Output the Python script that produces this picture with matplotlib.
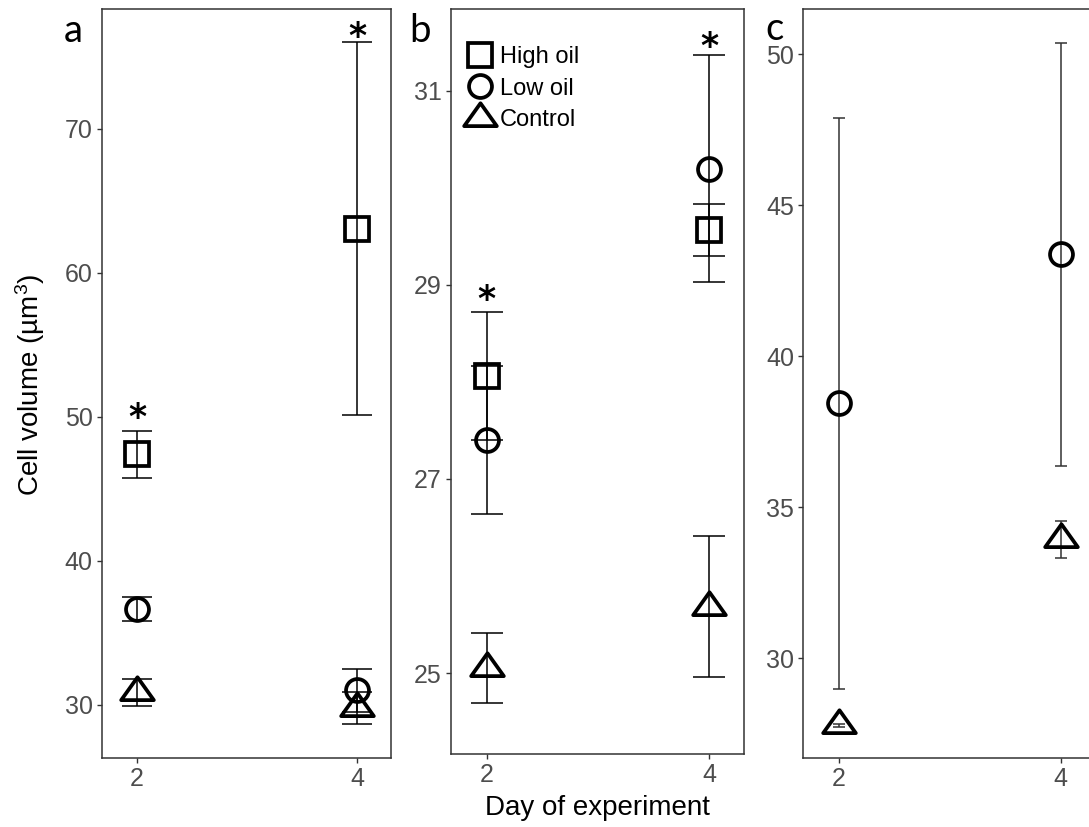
import matplotlib
matplotlib.use("Agg")
import matplotlib.pyplot as plt
from matplotlib.path import Path
from matplotlib.lines import Line2D
from matplotlib.textpath import TextPath
from matplotlib.font_manager import FontProperties

plt.rcParams["font.family"] = ["Liberation Sans", "DejaVu Sans"]
plt.rcParams["mathtext.default"] = "regular"

days = [2, 4]
treatments = ["High oil", "Low oil", "Control"]

# Panel a: means and standard errors
a_high_mean = [47.39, 63.05]
a_high_err = [1.65, 12.95]
a_low_mean = [36.65, 31.0]
a_low_err = [0.82, 1.5]
a_ctrl_mean = [30.87, 29.75]
a_ctrl_err = [0.94, 1.1]
a_star_day = [2, 4]
a_star_y = [50.45, 76.9]

# Panel b
b_high_mean = [28.065, 29.567]
b_high_err = [0.66, 0.27]
b_low_mean = [27.40, 30.20]
b_low_err = [0.76, 1.17]
b_ctrl_mean = [25.05, 25.685]
b_ctrl_err = [0.36, 0.725]
b_star_day = [2, 4]
b_star_y = [28.92, 31.53]

# Panel c
c_low_mean = [38.43, 43.37]
c_low_err = [9.44, 7.0]
c_ctrl_mean = [27.78, 33.925]
c_ctrl_err = [0.05, 0.625]

a_yticks = [30, 40, 50, 60, 70]
b_yticks = [25, 27, 29, 31]
c_yticks = [30, 35, 40, 45, 50]

# Flattened triangle with its centroid at the origin
tri_h = 0.7
triangle = Path([(0, tri_h * 2 / 3), (-0.5, -tri_h / 3), (0.5, -tri_h / 3), (0, tri_h * 2 / 3)],
                [Path.MOVETO, Path.LINETO, Path.LINETO, Path.CLOSEPOLY])

marker_style = {
    "High oil": dict(marker="s", ms=17.5),
    "Low oil": dict(marker="o", ms=16.5),
    "Control": dict(marker=triangle, ms=23.5),
}
MEW = 2.7
FRAME = "#333333"
TICKC = "#4D4D4D"
letter_font = FontProperties(family="Lato", size=27.5)
star_font = FontProperties(family="DejaVu Sans", size=25, weight="bold")

fig = plt.figure(figsize=(10.89, 8.27), dpi=100)
W, H = 1089, 827


def add_panel(left, top, right, bottom):
    return fig.add_axes([left / W, 1 - bottom / H, (right - left) / W, (bottom - top) / H])


ax_a = add_panel(102, 9, 391, 758)
ax_b = add_panel(451, 9, 744, 754)
ax_c = add_panel(803.3, 9, 1095, 758)


def style_axes(ax, ylim, yticks):
    ax.set_xlim(1.68, 4.31)
    ax.set_ylim(*ylim)
    ax.set_xticks(days)
    ax.set_yticks(yticks)
    for sp in ax.spines.values():
        sp.set_color(FRAME)
        sp.set_linewidth(1.1)
    ax.tick_params(direction="out", length=3.6, width=1.0, color=FRAME,
                   labelcolor=TICKC, labelsize=18, pad=3)


def draw_series(ax, mean, err, name, capsize, ecolor="black", elw=1.1):
    ax.errorbar(days, mean, yerr=err, fmt="none", ecolor=ecolor, elinewidth=elw,
                capsize=capsize, capthick=elw, zorder=2)
    ax.plot(days, mean, linestyle="none", mfc="none", mec="black", mew=MEW,
            zorder=3, **marker_style[name])


def draw_stars(ax, xs, ys):
    ext = TextPath((0, 0), "*", prop=star_font).get_extents()
    mid = (ext.y0 + ext.y1) / 2
    for x, y in zip(xs, ys):
        ax.annotate("*", (x, y), xytext=(0, -mid), textcoords="offset points",
                    ha="center", va="baseline", fontproperties=star_font, color="black")


# Panel a
style_axes(ax_a, (26.30, 78.31), a_yticks)
draw_series(ax_a, a_high_mean, a_high_err, "High oil", 10.8)
draw_series(ax_a, a_low_mean, a_low_err, "Low oil", 10.8)
draw_series(ax_a, a_ctrl_mean, a_ctrl_err, "Control", 10.8)
draw_stars(ax_a, a_star_day, a_star_y)

# Panel b
style_axes(ax_b, (24.165, 31.845), b_yticks)
draw_series(ax_b, b_high_mean, b_high_err, "High oil", 11.8)
draw_series(ax_b, b_low_mean, b_low_err, "Low oil", 11.8)
draw_series(ax_b, b_ctrl_mean, b_ctrl_err, "Control", 11.8)
draw_stars(ax_b, b_star_day, b_star_y)

handles = [Line2D([], [], linestyle="none", mfc="none", mec="black", mew=MEW,
                  **marker_style[t]) for t in treatments]
ax_b.legend(handles, treatments, loc="upper left", bbox_to_anchor=(0.0546, 0.950),
            frameon=False, fontsize=17, handlelength=1.1, handletextpad=0.3,
            labelspacing=0.40, borderpad=0, borderaxespad=0)

# Panel c
style_axes(ax_c, (26.69, 51.49), c_yticks)
draw_series(ax_c, c_low_mean, c_low_err, "Low oil", 4.0, ecolor="#333333", elw=1.1)
draw_series(ax_c, c_ctrl_mean, c_ctrl_err, "Control", 4.0, ecolor="#333333", elw=1.1)

# Panel letters and shared axis titles
for letter, x, y in [("a", 64, 42), ("b", 409, 42), ("c", 765, 40)]:
    fig.text(x / W, 1 - y / H, letter, fontproperties=letter_font, ha="left", va="baseline")

fig.text(30 / W, 1 - 385 / H, "Cell volume (µm$^{3}$)", rotation=90, ha="center",
         va="center", fontsize=20, color="black")
fig.text(597 / W, 1 - 815 / H, "Day of experiment", ha="center", va="baseline",
         fontsize=20, color="black")

fig.savefig("out.png", dpi=100)
